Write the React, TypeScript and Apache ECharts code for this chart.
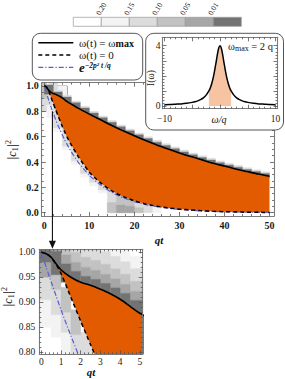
import React, { useEffect, useRef } from "react";
import * as echarts from "echarts";

// ---------------- data ----------------
const T = [0, 0.25, 0.5, 0.75, 1, 1.5, 2, 2.5, 3, 3.5, 4, 4.5, 5, 6, 7.5, 10, 12.5, 15, 17.5, 20, 22.5, 25, 27.5, 30, 32.5, 35, 37.5, 40, 42.5, 45, 47.5, 50];
// |c1|^2 for omega(t) = omega_max
const UPPER = [1, 0.997, 0.99, 0.977, 0.965, 0.95, 0.94, 0.934, 0.926, 0.917, 0.906, 0.892, 0.878, 0.857, 0.825, 0.778, 0.733, 0.688, 0.646, 0.607, 0.57, 0.535, 0.503, 0.472, 0.443, 0.417, 0.391, 0.368, 0.345, 0.325, 0.305, 0.288];
// |c1|^2 for omega(t) = 0
const DASHED = [1, 0.997, 0.99, 0.976, 0.958, 0.91, 0.862, 0.815, 0.77, 0.725, 0.68, 0.64, 0.6, 0.535, 0.445, 0.32, 0.235, 0.172, 0.127, 0.094, 0.069, 0.051, 0.038, 0.028, 0.021, 0.015, 0.011, 0.008, 0.006, 0.004, 0.003, 0.002];
// e^{-2p^2 t/q}
const EXPDECAY = [1, 0.97, 0.941, 0.913, 0.885, 0.833, 0.784, 0.737, 0.693, 0.652, 0.614, 0.577, 0.543, 0.481, 0.4, 0.295, 0.218, 0.16, 0.118, 0.087, 0.064, 0.047, 0.035, 0.026, 0.019, 0.014, 0.01, 0.0076, 0.0056, 0.0041, 0.003, 0.0022];
const FILL_START = 0.75;

// spectrum I(omega)
const W = [-10, -9, -8, -7, -6, -5, -4.5, -4, -3.5, -3, -2.5, -2, -1.75, -1.5, -1.25, -1, -0.75, -0.5, -0.25, 0, 0.25, 0.5, 0.75, 1, 1.25, 1.5, 1.75, 2, 2.5, 3, 3.5, 4, 4.5, 5, 6, 7, 8, 9, 10];
const SPEC = [0.09, 0.1, 0.12, 0.14, 0.18, 0.24, 0.28, 0.34, 0.42, 0.54, 0.72, 1.0, 1.2, 1.48, 1.83, 2.28, 2.81, 3.36, 3.82, 4, 3.82, 3.36, 2.81, 2.28, 1.83, 1.48, 1.2, 1.0, 0.72, 0.54, 0.42, 0.34, 0.28, 0.24, 0.18, 0.14, 0.12, 0.1, 0.09];
const W_MAX = 2;

// colour bar
const CBAR_LABELS = ["0.20", "0.15", "0.10", "0.05", "0.01"];
const GRAYS = ["#ffffff", "#f3f3f3", "#dcdcdc", "#c2c2c2", "#a6a6a6", "#737373"];

// probability-density cells [t0, t1, v0, v1, level] for main panel
const MAIN_CELLS = [
  [-0.6, 0.5, 0.8, 0.9, 2], [-0.6, 0.5, 0.9, 1.03, 3], [0.5, 2, 0.75, 0.95, 1],
  [1, 3, 0.95, 1.03, 2], [3, 5, 0.93, 1.0, 1],
  [2, 4, 0.953, 0.967, 2], [4, 6, 0.913, 0.927, 2], [6, 8, 0.868, 0.882, 2], [8, 10, 0.826, 0.84, 2],
  [10, 12, 0.786, 0.8, 2], [12, 14, 0.749, 0.763, 2], [14, 16, 0.713, 0.727, 2], [16, 18, 0.678, 0.692, 2],
  [18, 20, 0.646, 0.66, 2], [20, 22, 0.615, 0.629, 2], [22, 24, 0.585, 0.599, 2], [24, 26, 0.557, 0.571, 2],
  [26, 28, 0.53, 0.544, 2], [28, 30, 0.505, 0.519, 2], [30, 32, 0.48, 0.494, 2], [32, 34, 0.457, 0.471, 2],
  [34, 36, 0.435, 0.449, 2], [36, 38, 0.415, 0.429, 2], [38, 40, 0.395, 0.409, 2], [40, 42, 0.376, 0.39, 2],
  [42, 44, 0.358, 0.372, 2], [44, 46, 0.341, 0.355, 2], [46, 48, 0.325, 0.339, 2], [48, 50, 0.309, 0.323, 2],
  [0, 2, 0.935, 1.008, 5], [2, 4, 0.895, 0.953, 5], [4, 6, 0.85, 0.913, 5], [6, 8, 0.808, 0.868, 5],
  [8, 10, 0.768, 0.826, 5], [10, 12, 0.731, 0.786, 5], [12, 14, 0.695, 0.749, 5], [14, 16, 0.66, 0.713, 5],
  [16, 18, 0.628, 0.678, 5], [18, 20, 0.597, 0.646, 5], [20, 22, 0.567, 0.615, 5], [22, 24, 0.539, 0.585, 5],
  [24, 26, 0.512, 0.557, 5], [26, 28, 0.487, 0.53, 5], [28, 30, 0.462, 0.505, 5], [30, 32, 0.439, 0.48, 5],
  [32, 34, 0.417, 0.457, 5], [34, 36, 0.397, 0.435, 5], [36, 38, 0.377, 0.415, 5], [38, 40, 0.358, 0.395, 5],
  [40, 42, 0.34, 0.376, 5], [42, 44, 0.323, 0.358, 5], [44, 46, 0.307, 0.341, 5], [46, 48, 0.291, 0.325, 5],
  [48, 50, 0.277, 0.309, 5],
  [0, 2, 0.82, 1.01, 1], [2, 4, 0.64, 0.872, 1], [4, 6, 0.495, 0.69, 1], [6, 8, 0.38, 0.545, 1],
  [8, 10, 0.28, 0.43, 1], [10, 12, 0.21, 0.33, 1], [12, 14, 0.155, 0.26, 1],
  [0, 2, 0.85, 1.01, 2], [2, 4, 0.67, 0.872, 2], [4, 6, 0.525, 0.69, 2], [6, 8, 0.41, 0.545, 2],
  [8, 10, 0.31, 0.43, 2], [10, 12, 0.24, 0.33, 2], [12, 14, 0.18, 0.26, 2],
  [14, 16, 0.0, 0.19, 2], [14, 16, 0.0, 0.08, 3], [16, 18, 0.0, 0.15, 3], [16, 18, 0.0, 0.06, 4],
  [18, 20, 0.0, 0.118, 3], [18, 20, 0.0, 0.05, 4], [20, 22, 0.0, 0.094, 2], [20, 22, 0.0, 0.04, 3],
  [22, 24, 0.0, 0.075, 2], [24, 26, 0.0, 0.058, 1],
];

// cells for the zoomed panel
const ZOOM_CELLS = [
  [-0.1, 0.5, 0.95, 0.98, 4], [-0.1, 0.5, 0.905, 0.95, 2], [-0.1, 0.5, 0.85, 0.905, 1],
  [0.5, 1, 0.925, 0.965, 3], [0.5, 1, 0.875, 0.925, 2], [0.5, 1, 0.83, 0.875, 1],
  [1, 1.5, 0.88, 0.93, 3], [1, 1.5, 0.84, 0.88, 2], [1, 1.5, 0.795, 0.84, 1],
  [1.5, 2, 0.835, 0.885, 3], [1.5, 2, 0.795, 0.835, 2],
  [2, 2.5, 0.795, 0.84, 2], [2.5, 3, 0.795, 0.81, 2],
  [3, 3.5, 1.001, 1.026, 1], [3.5, 4, 0.992, 1.017, 1], [4, 4.5, 0.981, 1.006, 1], [4.5, 5.14, 0.967, 0.992, 1],
  [1.5, 2, 1.0, 1.025, 2], [2, 2.5, 0.99, 1.015, 2], [2.5, 3, 0.984, 1.009, 2], [3, 3.5, 0.976, 1.001, 2],
  [3.5, 4, 0.967, 0.992, 2], [4, 4.5, 0.956, 0.981, 2], [4.5, 5.14, 0.942, 0.967, 2],
  [1, 1.5, 0.995, 1.015, 3], [1.5, 2, 0.98, 1.0, 3], [2, 2.5, 0.97, 0.99, 3], [2.5, 3, 0.964, 0.984, 3],
  [3, 3.5, 0.956, 0.976, 3], [3.5, 4, 0.947, 0.967, 3], [4, 4.5, 0.936, 0.956, 3], [4.5, 5.14, 0.922, 0.942, 3],
  [-0.1, 0.5, 1.012, 1.03, 4], [0.5, 1, 1.002, 1.02, 4], [1, 1.5, 0.977, 0.995, 4], [1.5, 2, 0.962, 0.98, 4],
  [2, 2.5, 0.952, 0.97, 4], [2.5, 3, 0.946, 0.964, 4], [3, 3.5, 0.938, 0.956, 4], [3.5, 4, 0.929, 0.947, 4],
  [4, 4.5, 0.918, 0.936, 4], [4.5, 5.14, 0.904, 0.922, 4],
  [-0.1, 0.5, 0.98, 1.012, 5], [0.5, 1, 0.955, 1.002, 5], [1, 1.5, 0.94, 0.977, 5], [1.5, 2, 0.93, 0.962, 5],
  [2, 2.5, 0.924, 0.952, 5], [2.5, 3, 0.916, 0.946, 5], [3, 3.5, 0.907, 0.938, 5], [3.5, 4, 0.896, 0.929, 5],
  [4, 4.5, 0.882, 0.918, 5], [4.5, 5.14, 0.865, 0.904, 5],
];

// axis ticks
const MAIN_X_MAJOR = [0, 10, 20, 30, 40, 50];
const MAIN_Y_MAJOR = [0, 0.2, 0.4, 0.6, 0.8, 1.0];
const ZOOM_X_MAJOR = [0, 1, 2, 3, 4, 5];
const ZOOM_Y_MAJOR = [0.8, 0.85, 0.9, 0.95, 1.0];
const SPEC_X_MAJOR = [-10, -5, 0, 5, 10];
const SPEC_X_LABELS = [-10, 10];
const SPEC_Y_MAJOR = [0, 1, 2, 3, 4];
const SPEC_Y_LABELS = [0, 4];

// ---------------- styling ----------------
const SERIF = "'Liberation Serif', 'DejaVu Serif', serif";
const ORANGE = "#e35b00";
const LIGHT_ORANGE = "#f6c4a3";
const BLUE = "#5b5bd6";
const FRAME = "#7a7a7a";
const TICK = "#555";

function steps(a: number, b: number, d: number, skip: number[]) {
  const out: number[] = [];
  const n = Math.round((b - a) / d);
  for (let i = 0; i <= n; i++) {
    const v = +(a + i * d).toFixed(4);
    if (!skip.some((s) => Math.abs(s - v) < 1e-6)) out.push(v);
  }
  return out;
}

function frameAxes(grid: number, dim: "x" | "y", min: number, max: number, major: number[], minor: number[], labels: number[], fmt: (v: number) => string, fontSize: number, margin: number, z: number, bold: boolean) {
  const pos = dim === "x" ? ["bottom", "top"] : ["left", "right"];
  const base = {
    type: "value", gridIndex: grid, min, max, z,
    splitLine: { show: false },
    axisLine: { show: true, onZero: false, lineStyle: { color: FRAME, width: 1.1 } },
  };
  const tick = (vals: number[], len: number) => ({ show: true, inside: true, length: len, customValues: vals, lineStyle: { color: TICK, width: 0.8 } });
  return [
    { ...base, position: pos[0], axisTick: tick(major, 4), axisLabel: { show: true, customValues: labels, formatter: fmt, fontFamily: SERIF, fontSize, fontWeight: bold ? "bold" : "normal", color: "#1a1a1a", margin } },
    { ...base, position: pos[0], axisLine: { show: false, onZero: false }, axisTick: tick(minor, 2), axisLabel: { show: false } },
    { ...base, position: pos[1], axisTick: tick(major, 4), axisLabel: { show: false } },
    { ...base, position: pos[1], axisLine: { show: false, onZero: false }, axisTick: tick(minor, 2), axisLabel: { show: false } },
  ];
}

function cellSeries(cells: number[][], axis: number, z: number) {
  const sorted = cells.slice().sort((a, b) => a[4] - b[4]);
  return {
    type: "custom", xAxisIndex: axis, yAxisIndex: axis, z, clip: true, silent: true,
    encode: { x: [0, 1], y: [2, 3] },
    data: sorted,
    renderItem: (params: any, api: any) => {
      const a = api.coord([api.value(0), api.value(3)]);
      const b = api.coord([api.value(1), api.value(2)]);
      const c = GRAYS[api.value(4)];
      return { type: "rect", shape: { x: a[0], y: a[1], width: b[0] - a[0], height: b[1] - a[1] }, style: { fill: c, stroke: c, lineWidth: 0.4 } };
    },
  };
}

function fillSeries(axis: number, z: number) {
  return {
    type: "custom", xAxisIndex: axis, yAxisIndex: axis, z, clip: true, silent: true,
    data: [[FILL_START, 1]],
    renderItem: (params: any, api: any) => {
      const pts: number[][] = [];
      for (let i = 0; i < T.length; i++) if (T[i] >= FILL_START) pts.push(api.coord([T[i], UPPER[i]]));
      for (let i = T.length - 1; i >= 0; i--) if (T[i] >= FILL_START) pts.push(api.coord([T[i], DASHED[i]]));
      return { type: "polygon", shape: { points: pts }, style: { fill: ORANGE } };
    },
  };
}

function curveSeries(axis: number, z: number, withBox: boolean) {
  const up: any = {
    type: "line", xAxisIndex: axis, yAxisIndex: axis, z, showSymbol: false, smooth: 0.2, silent: true,
    data: T.map((t, i) => [t, UPPER[i]]),
    lineStyle: { color: "#000", width: 1.6 },
  };
  if (withBox) {
    up.markArea = {
      silent: true,
      itemStyle: { color: "rgba(0,0,0,0)", borderColor: "#666", borderWidth: 0.8 },
      data: [[{ coord: [-0.58, 0.8] }, { coord: [5.1, 1.0] }]],
    };
  }
  return [
    up,
    {
      type: "line", xAxisIndex: axis, yAxisIndex: axis, z: z + 1, showSymbol: false, smooth: 0.2, silent: true,
      data: T.map((t, i) => [t, EXPDECAY[i]]),
      lineStyle: { color: BLUE, width: 1.2, type: [5, 2, 1.2, 2] },
    },
    {
      type: "line", xAxisIndex: axis, yAxisIndex: axis, z: z + 2, showSymbol: false, smooth: 0.2, silent: true,
      data: T.map((t, i) => [t, DASHED[i]]),
      lineStyle: { color: "#000", width: 1.5, type: [4, 3] },
    },
  ];
}

function txt(id: string, x: number, y: number, text: string, style: any, extra: any = {}) {
  return { type: "text", id, x, y, z: 40, ...extra, style: { text, fontFamily: SERIF, fill: "#111", align: "center", verticalAlign: "middle", ...style } };
}

export default function App() {
  const ref = useRef<HTMLDivElement>(null);
  useEffect(() => {
    if (!ref.current) return;
    const chart = echarts.init(ref.current, null, { renderer: "svg" });
    const f1 = (v: number) => v.toFixed(1);
    const f2 = (v: number) => v.toFixed(2);
    const fi = (v: number) => (v < 0 ? "\u2212" + Math.abs(v) : String(v));

    const xAxes = [
      ...frameAxes(0, "x", -0.58, 51.0, MAIN_X_MAJOR, steps(0, 50, 2, MAIN_X_MAJOR), MAIN_X_MAJOR, fi, 10, 4, 5, true),
      ...frameAxes(1, "x", -0.1, 5.14, ZOOM_X_MAJOR, steps(0, 5, 0.2, ZOOM_X_MAJOR), ZOOM_X_MAJOR, fi, 9.5, 3, 5, false),
      ...frameAxes(2, "x", -10.35, 10.35, SPEC_X_MAJOR, steps(-10, 10, 1, SPEC_X_MAJOR), SPEC_X_LABELS, fi, 9.5, 5, 32, false),
    ];
    const yAxes = [
      ...frameAxes(0, "y", -0.026, 1.026, MAIN_Y_MAJOR, steps(0, 1, 0.05, MAIN_Y_MAJOR), MAIN_Y_MAJOR, f1, 10, 3, 5, true),
      ...frameAxes(1, "y", 0.796, 1.006, ZOOM_Y_MAJOR, steps(0.8, 1.0, 0.01, ZOOM_Y_MAJOR), ZOOM_Y_MAJOR, f2, 9.5, 4, 5, false),
      ...frameAxes(2, "y", -0.18, 4.56, SPEC_Y_MAJOR, steps(0, 4, 0.2, SPEC_Y_MAJOR), SPEC_Y_LABELS, fi, 9.5, 2, 32, false),
    ];

    const shadePts = W.map((w, i) => [w, SPEC[i]]).filter((p) => p[0] >= -W_MAX && p[0] <= W_MAX);

    const option: any = {
      animation: false,
      backgroundColor: "#ffffff",
      grid: [
        { left: 41.7, top: 82.7, width: 232.3, height: 133.3, containLabel: false, outerBoundsMode: "none" },
        { left: 39.3, top: 249.3, width: 103.4, height: 105, containLabel: false, outerBoundsMode: "none" },
        { left: 162.5, top: 37.3, width: 115, height: 71.4, containLabel: false, outerBoundsMode: "none", z: 30 },
      ],
      xAxis: xAxes,
      yAxis: yAxes,
      series: [
        cellSeries(MAIN_CELLS, 0, 1),
        fillSeries(0, 2),
        ...curveSeries(0, 3, true),
        cellSeries(ZOOM_CELLS, 4, 1),
        fillSeries(4, 2),
        ...curveSeries(4, 3, false),
        {
          type: "line", xAxisIndex: 8, yAxisIndex: 8, z: 30, showSymbol: false, silent: true,
          data: shadePts,
          lineStyle: { width: 0 },
          areaStyle: { color: LIGHT_ORANGE, opacity: 1 },
        },
        {
          type: "line", xAxisIndex: 8, yAxisIndex: 8, z: 31, showSymbol: false, silent: true, smooth: 0.3,
          data: W.map((w, i) => [w, SPEC[i]]),
          lineStyle: { color: "#000", width: 1.5 },
          markLine: {
            silent: true, symbol: "none", label: { show: false },
            lineStyle: { color: "#9a9a9a", width: 0.8, type: "solid" },
            data: [{ xAxis: 0 }],
          },
        },
      ],
    };
    chart.setOption(option);

    const p = chart.convertToPixel({ xAxisIndex: 0, yAxisIndex: 0 }, [1.8, 0.8]) as number[];
    const q = chart.convertToPixel({ xAxisIndex: 4, yAxisIndex: 4 }, [0, 1.006]) as number[];
    const ax = p[0];
    const tipY = q[1] - 0.5;

    const cbX0 = 73.3, cbW = 28, cbY = 17.3, cbH = 9;
    const cbar: any[] = GRAYS.map((g, i) => ({
      type: "rect", id: "cb" + i, z: 40,
      shape: { x: cbX0 + i * cbW, y: cbY, width: cbW, height: cbH },
      style: { fill: g, stroke: "#9a9a9a", lineWidth: 0.7 },
    }));
    CBAR_LABELS.forEach((l, i) => {
      cbar.push(txt("cbl" + i, cbX0 + (i + 1) * cbW - 3.5, 14.5, l, { fontSize: 7.5, align: "left", verticalAlign: "middle" }, { rotation: 1.02 }));
    });

    const legY = [42.7, 55, 67.3];
    const graphics: any[] = [
      ...cbar,
      // legend box
      { type: "rect", id: "legbox", z: 25, shape: { x: 32.3, y: 33.3, width: 110.4, height: 46.7, r: 8 }, style: { fill: "#fff", stroke: "#555", lineWidth: 1 } },
      { type: "line", id: "leg1", z: 41, shape: { x1: 38.3, y1: legY[0], x2: 73.3, y2: legY[0] }, style: { stroke: "#000", lineWidth: 1.6 } },
      { type: "line", id: "leg2", z: 41, shape: { x1: 38.3, y1: legY[1], x2: 73.3, y2: legY[1] }, style: { stroke: "#000", lineWidth: 1.5, lineDash: [4, 3] } },
      { type: "line", id: "leg3", z: 41, shape: { x1: 38.3, y1: legY[2], x2: 73.3, y2: legY[2] }, style: { stroke: BLUE, lineWidth: 1.2, lineDash: [5, 2, 1.2, 2] } },
      txt("legt1", 79, legY[0], "{a|\u03c9(t) = \u03c9}{b|max}", {
        align: "left", rich: { a: { fontFamily: SERIF, fontSize: 11, lineHeight: 11, fill: "#111" }, b: { fontFamily: SERIF, fontSize: 10, fontWeight: "bold", verticalAlign: "bottom", lineHeight: 11, padding: [3, 0, 0, 0], fill: "#111" } },
      }),
      txt("legt2", 79, legY[1], "\u03c9(t) = 0", { align: "left", fontSize: 11 }),
      txt("legt3", 79, legY[2], "{e|e}{s|\u22122p\u00b2 t /q}", {
        align: "left", rich: { e: { fontFamily: SERIF, fontSize: 13, fontStyle: "italic", fontWeight: "bold", lineHeight: 12, fill: "#111" }, s: { fontFamily: SERIF, fontSize: 7.5, fontStyle: "italic", fontWeight: "bold", verticalAlign: "top", lineHeight: 12, fill: "#111" } },
      }),
      // spectrum inset box
      { type: "rect", id: "specbox", z: 25, shape: { x: 145.7, y: 33.3, width: 137.8, height: 96.7, r: 8 }, style: { fill: "#fff", stroke: "#555", lineWidth: 1 } },
      txt("wmax", 273, 46.5, "{a|\u03c9}{b|max}{a| = 2 q}", {
        align: "right", rich: { a: { fontFamily: SERIF, fontSize: 10.5, lineHeight: 12, fill: "#111" }, b: { fontFamily: SERIF, fontSize: 8, verticalAlign: "bottom", lineHeight: 12, fill: "#111" } },
      }),
      txt("iw", 150.5, 78, "I(\u03c9)", { fontSize: 9.5 }, { rotation: Math.PI / 2 }),
      txt("wq", 219, 119.3, "\u03c9/q", { fontSize: 10, fontStyle: "italic" }),
      // axis names
      txt("qt1", 159, 240, "qt", { fontSize: 11, fontStyle: "italic", fontWeight: "bold" }),
      txt("qt2", 91, 372, "qt", { fontSize: 11, fontStyle: "italic", fontWeight: "bold" }),
      txt("c1a", 12, 150, "{a||c}{b|1}{a||}{c|2}", {
        rich: {
          a: { fontFamily: SERIF, fontSize: 12, fontStyle: "italic", lineHeight: 15, fill: "#111" },
          b: { fontFamily: SERIF, fontSize: 8, verticalAlign: "bottom", lineHeight: 15, fill: "#111" },
          c: { fontFamily: SERIF, fontSize: 8, verticalAlign: "top", lineHeight: 15, fill: "#111" },
        },
      }, { rotation: Math.PI / 2 }),
      txt("c1b", 8, 297, "{a||c}{b|1}{a||}{c|2}", {
        rich: {
          a: { fontFamily: SERIF, fontSize: 12, fontStyle: "italic", lineHeight: 15, fill: "#111" },
          b: { fontFamily: SERIF, fontSize: 8, verticalAlign: "bottom", lineHeight: 15, fill: "#111" },
          c: { fontFamily: SERIF, fontSize: 8, verticalAlign: "top", lineHeight: 15, fill: "#111" },
        },
      }, { rotation: Math.PI / 2 }),
      // zoom arrow
      { type: "line", id: "arrowLine", z: 20, shape: { x1: ax, y1: p[1], x2: ax, y2: tipY - 6 }, style: { stroke: "#111", lineWidth: 1.1 } },
      { type: "polygon", id: "arrowHead", z: 20, shape: { points: [[ax - 3.5, tipY - 8], [ax + 3.5, tipY - 8], [ax, tipY]] }, style: { fill: "#111" } },
    ];
    chart.setOption({ graphic: graphics });

    return () => chart.dispose();
  }, []);
  return <div ref={ref} style={{ position: "absolute", left: 0, top: 0, width: 285, height: 379, background: "#fff" }} />;
}
